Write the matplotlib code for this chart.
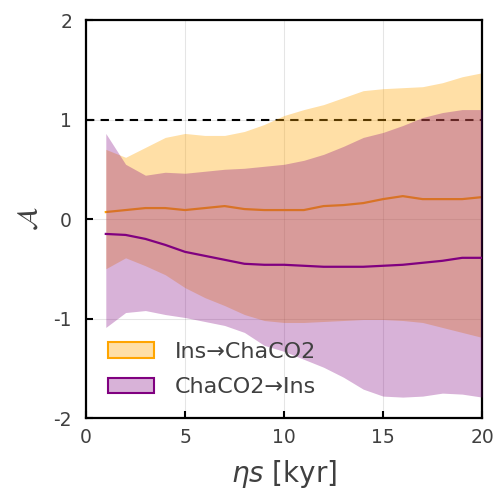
import numpy as np
import matplotlib.pyplot as plt
from matplotlib.patches import Patch

# time axis [kyr]
eta_s = np.arange(1, 21)

# Ins -> ChaCO2
ins_mean = [0.07, 0.09, 0.11, 0.11, 0.09, 0.11, 0.13, 0.10, 0.09, 0.09,
            0.09, 0.13, 0.14, 0.16, 0.20, 0.23, 0.20, 0.20, 0.20, 0.22]
ins_upper = [0.70, 0.62, 0.72, 0.82, 0.86, 0.84, 0.84, 0.88, 0.95, 1.04,
             1.10, 1.15, 1.22, 1.29, 1.31, 1.32, 1.33, 1.37, 1.43, 1.47]
ins_lower = [-0.50, -0.39, -0.47, -0.56, -0.69, -0.79, -0.87, -0.96, -1.02, -1.04,
             -1.04, -1.03, -1.02, -1.01, -1.01, -1.02, -1.04, -1.09, -1.14, -1.19]

# ChaCO2 -> Ins
cha_mean = [-0.15, -0.16, -0.20, -0.26, -0.33, -0.37, -0.41, -0.45, -0.46, -0.46,
            -0.47, -0.48, -0.48, -0.48, -0.47, -0.46, -0.44, -0.42, -0.39, -0.39]
cha_upper = [0.86, 0.55, 0.44, 0.47, 0.46, 0.48, 0.50, 0.51, 0.53, 0.55,
             0.59, 0.65, 0.73, 0.82, 0.87, 0.94, 1.02, 1.07, 1.10, 1.10]
cha_lower = [-1.09, -0.94, -0.92, -0.96, -0.99, -1.03, -1.07, -1.14, -1.27, -1.33,
             -1.41, -1.49, -1.59, -1.71, -1.78, -1.79, -1.78, -1.75, -1.76, -1.79]

labels = ['Ins\u2192ChaCO2', 'ChaCO2\u2192Ins']
c_ins, c_cha = 'orange', 'purple'
a_ins, a_cha = 0.35, 0.3
txt = '#404040'

fig = plt.figure(figsize=(4.98, 4.92), dpi=100)
ax = fig.add_axes([0.1727, 0.1504, 0.7952, 0.8089])

ax.axhline(1, color='black', ls='--', lw=1.5, dashes=(4, 3), zorder=1)
ax.fill_between(eta_s, ins_lower, ins_upper, color=c_ins, alpha=a_ins, lw=0, zorder=2)
ax.plot(eta_s, ins_mean, color=c_ins, lw=1.6, zorder=2)
ax.fill_between(eta_s, cha_lower, cha_upper, color=c_cha, alpha=a_cha, lw=0, zorder=3)
ax.plot(eta_s, cha_mean, color=c_cha, lw=1.6, zorder=3)

ax.set_xlim(0, 20)
ax.set_ylim(-2, 2)
ax.set_xticks([0, 5, 10, 15, 20])
ax.set_yticks([-2, -1, 0, 1, 2])
ax.set_yticklabels(['-2', '-1', '0', '1', '2'])
ax.grid(True, color='black', alpha=0.1, lw=0.8, zorder=0)
ax.tick_params(direction='in', length=5, width=1.5, labelsize=13.5, labelcolor=txt,
               top=False, right=False, pad=7)
ax.tick_params(axis='y', pad=10)
for sp in ax.spines.values():
    sp.set_linewidth(1.6)

ax.set_xlabel('$\\eta s$ [kyr]', fontsize=20, color=txt, labelpad=8)
ax.set_ylabel('$\\mathcal{A}$', fontsize=20, color=txt, labelpad=8)

handles = [Patch(facecolor=(1.0, 0.647, 0.0, a_ins), edgecolor=c_ins, lw=1.5),
           Patch(facecolor=(0.5, 0.0, 0.5, a_cha), edgecolor=c_cha, lw=1.5)]
leg = ax.legend(handles, labels, loc='lower left', frameon=False, fontsize=16,
                handlelength=2.07, handleheight=0.72, handletextpad=0.95,
                labelspacing=0.69, bbox_to_anchor=(0.005, 0.002))
for t in leg.get_texts():
    t.set_color(txt)

fig.savefig('out.png', dpi=100)
